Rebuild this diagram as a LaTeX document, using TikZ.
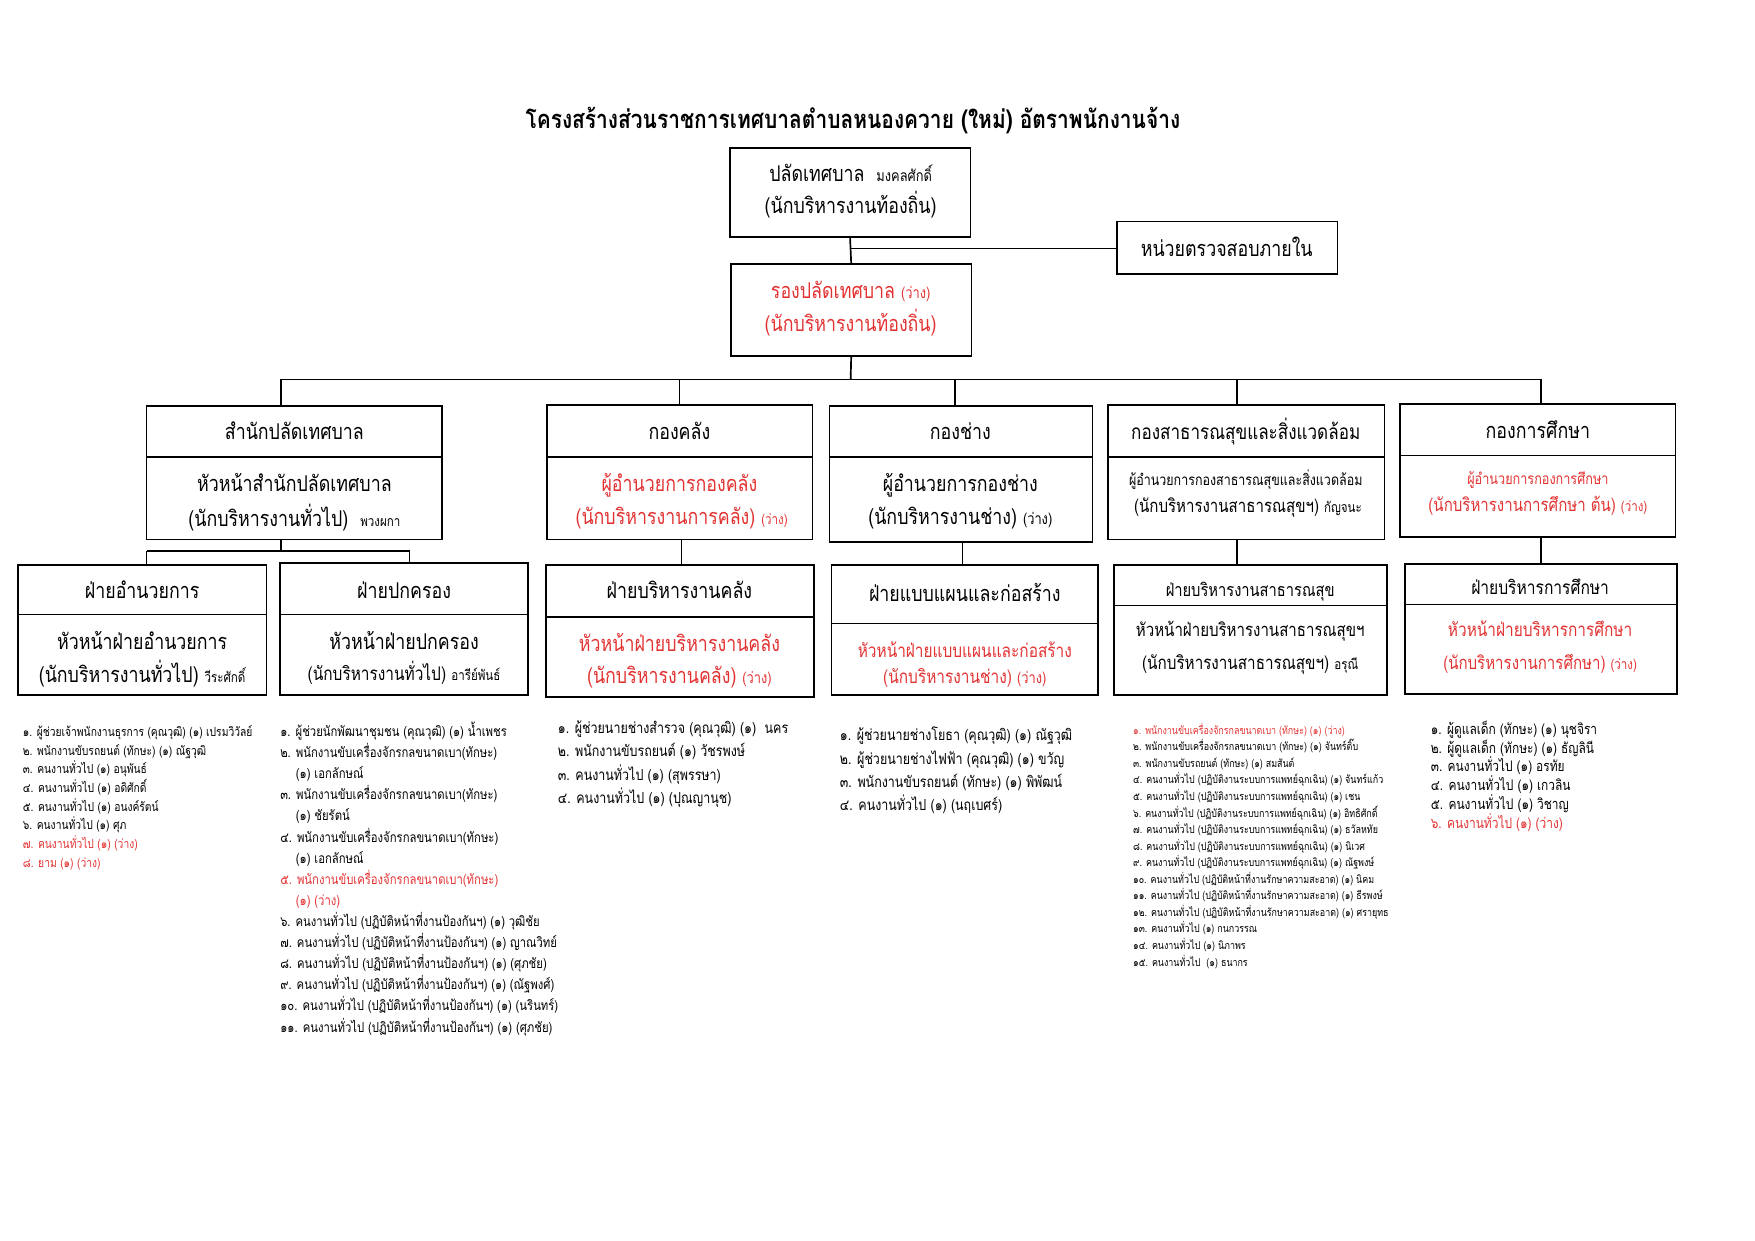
\documentclass[tikz,border=0pt]{standalone}
\usepackage{fontspec}
\setmainfont[Script=Thai,FakeStretch=0.82]{Loma}
\definecolor{myred}{RGB}{226,50,50}
\newcommand\szT{\fontsize{11.4}{13}\selectfont\bfseries}
\newcommand\szH{\fontsize{9.7}{12}\selectfont}
\newcommand\szL{\fontsize{9.7}{12}\selectfont}
\newcommand\szM{\fontsize{8.4}{10}\selectfont}
\newcommand\szS{\fontsize{7}{9}\selectfont}
\newcommand\szXS{\fontsize{6.3}{8}\selectfont}
\begin{document}
\begin{tikzpicture}[x=0.5pt,y=-0.5pt,
  bx/.style={draw, line width=0.75pt, inner sep=0, rectangle},
  tx/.style={inner sep=0, text height=0.75em, text depth=0.25em, anchor=center, yshift=-1pt},
  li/.style={inner sep=0, text height=0.75em, text depth=0.25em, anchor=west},
  ln/.style={line width=0.75pt},
  rd/.style={text=myred}]
\useasboundingbox (0,0) rectangle (1568,1108.5);
% title
\node[tx,font=\szT] (title) at (762,108) {โครงสร้างส่วนราชการเทศบาลตำบลหนองควาย (ใหม่) อัตราพนักงานจ้าง};
% boxes
\node[bx,minimum width=107.5pt,minimum height=40pt] (A) at (759.5,172) {};
\node[bx,minimum width=98.5pt,minimum height=23.5pt] (B) at (1096.5,221.5) {};
\node[bx,minimum width=107.5pt,minimum height=41pt] (C) at (760.5,277) {};
\node[bx,minimum width=132pt,minimum height=59.5pt] (D1) at (263,422.5) {};
\node[bx,minimum width=118.5pt,minimum height=60pt] (D2) at (607.5,422) {};
\node[bx,minimum width=117.5pt,minimum height=60.5pt] (D3) at (858.5,423.5) {};
\node[bx,minimum width=123.5pt,minimum height=60pt] (D4) at (1113.5,422) {};
\node[bx,minimum width=123pt,minimum height=59.5pt] (D5) at (1374,420.5) {};
\node[bx,minimum width=111pt,minimum height=58pt] (E1) at (127,563) {};
\node[bx,minimum width=111pt,minimum height=59pt] (E2) at (361,562) {};
\node[bx,minimum width=119.5pt,minimum height=59pt] (E3) at (607.5,564) {};
\node[bx,minimum width=119pt,minimum height=58pt] (E4) at (862,563) {};
\node[bx,minimum width=122pt,minimum height=58pt] (E5) at (1117,563) {};
\node[bx,minimum width=121.5pt,minimum height=58pt] (E6) at (1376.5,562) {};
% dividers
\draw[ln] (D1.west |- 0,408) -- (D1.east |- 0,408);
\draw[ln] (D2.west |- 0,408) -- (D2.east |- 0,408);
\draw[ln] (D3.west |- 0,408) -- (D3.east |- 0,408);
\draw[ln] (D4.west |- 0,408) -- (D4.east |- 0,408);
\draw[ln] (D5.west |- 0,407) -- (D5.east |- 0,407);
\draw[ln] (E1.west |- 0,549) -- (E1.east |- 0,549);
\draw[ln] (E2.west |- 0,549) -- (E2.east |- 0,549);
\draw[ln] (E3.west |- 0,551) -- (E3.east |- 0,551);
\draw[ln] (E4.west |- 0,557) -- (E4.east |- 0,557);
\draw[ln] (E5.west |- 0,541) -- (E5.east |- 0,541);
\draw[ln] (E6.west |- 0,540) -- (E6.east |- 0,540);
% connectors
\coordinate (jAB) at (760,222);
\draw[ln] (A.south) -- (C.north);
\draw[ln] (jAB) -- (B.west |- jAB);
\coordinate (bus) at (760,339);
\coordinate (b1) at (251,339);
\coordinate (b2) at (607,339);
\coordinate (b3) at (853,339);
\coordinate (b4) at (1105,339);
\coordinate (b5) at (1377,339);
\draw[ln] (C.south) -- (bus);
\draw[ln] (b1) -- (b5);
\draw[ln] (b1) -- (b1 |- D1.north);
\draw[ln] (b2) -- (b2 |- D2.north);
\draw[ln] (b3) -- (b3 |- D3.north);
\draw[ln] (b4) -- (b4 |- D4.north);
\draw[ln] (b5) -- (b5 |- D5.north);
\coordinate (c0) at (251,492);
\coordinate (c1) at (131,492);
\coordinate (c2) at (366,492);
\draw[ln] (b1 |- D1.south) -- (c0);
\draw[ln] (c1) -- (c2);
\draw[ln] (c1) -- (c1 |- E1.north);
\draw[ln] (c2) -- (c2 |- E2.north);
\coordinate (d2) at (609,480);
\coordinate (d3) at (860,480);
\coordinate (d4) at (1105,480);
\coordinate (d5) at (1377,480);
\draw[ln] (d2 |- D2.south) -- (d2 |- E3.north);
\draw[ln] (d3 |- D3.south) -- (d3 |- E4.north);
\draw[ln] (d4 |- D4.south) -- (d4 |- E5.north);
\draw[ln] (d5 |- D5.south) -- (d5 |- E6.north);
% box texts
\node[tx,font=\szH] (tA1) at (760,155) {ปลัดเทศบาล\ \ {\szS มงคลศักดิ์}};
\node[tx,font=\szH] (tA2) at (760,184) {(นักบริหารงานท้องถิ่น)};
\node[tx,font=\szH] (tB) at (1096,222) {หน่วยตรวจสอบภายใน};
\node[tx,font=\szH,rd] (tC1) at (760,260) {รองปลัดเทศบาล {\szS (ว่าง)}};
\node[tx,font=\szH,rd] (tC2) at (760,289) {(นักบริหารงานท้องถิ่น)};
\node[tx,font=\szH] (tD1a) at (263,386) {สำนักปลัดเทศบาล};
\node[tx,font=\szH] (tD1b) at (263,432) {หัวหน้าสำนักปลัดเทศบาล};
\node[tx,font=\szH] (tD1c) at (263,463) {(นักบริหารงานทั่วไป)\ \ {\szXS พวงผกา}};
\node[tx,font=\szH] (tD2a) at (607,386) {กองคลัง};
\node[tx,font=\szH,rd] (tD2b) at (607,432) {ผู้อำนวยการกองคลัง};
\node[tx,font=\szH,rd] (tD2c) at (609,462) {(นักบริหารงานการคลัง) {\szXS (ว่าง)}};
\node[tx,font=\szH] (tD3a) at (858,386) {กองช่าง};
\node[tx,font=\szH] (tD3b) at (858,432) {ผู้อำนวยการกองช่าง};
\node[tx,font=\szH] (tD3c) at (858,462) {(นักบริหารงานช่าง) {\szS (ว่าง)}};
\node[tx,font=\fontsize{9.3}{11}\selectfont] (tD4a) at (1113,386) {กองสาธารณสุขและสิ่งแวดล้อม};
\node[tx,font=\fontsize{6.8}{8}\selectfont] (tD4b) at (1113,427) {ผู้อำนวยการกองสาธารณสุขและสิ่งแวดล้อม};
\node[tx,font=\fontsize{8.2}{10}\selectfont] (tD4c) at (1115,451) {(นักบริหารงานสาธารณสุขฯ) {\szXS กัญจนะ}};
\node[tx,font=\szH] (tD5a) at (1374,385) {กองการศึกษา};
\node[tx,font=\fontsize{6.9}{8}\selectfont,rd] (tD5b) at (1374,426) {ผู้อำนวยการกองการศึกษา};
\node[tx,font=\fontsize{8.2}{10}\selectfont,rd] (tD5c) at (1374,450) {(นักบริหารงานการศึกษา ต้น) {\szXS (ว่าง)}};
\node[tx,font=\szH] (tE1a) at (127,528) {ฝ่ายอำนวยการ};
\node[tx,font=\szL] (tE1b) at (127,573) {หัวหน้าฝ่ายอำนวยการ};
\node[tx,font=\szL] (tE1c) at (127,603) {(นักบริหารงานทั่วไป) {\szXS วีระศักดิ์}};
\node[tx,font=\szH] (tE2a) at (361,528) {ฝ่ายปกครอง};
\node[tx,font=\szL] (tE2b) at (361,573) {หัวหน้าฝ่ายปกครอง};
\node[tx,font=\szM] (tE2c) at (361,601) {(นักบริหารงานทั่วไป) {\szXS อารีย์พันธ์}};
\node[tx,font=\szH] (tE3a) at (607,528) {ฝ่ายบริหารงานคลัง};
\node[tx,font=\szL,rd] (tE3b) at (607,575) {หัวหน้าฝ่ายบริหารงานคลัง};
\node[tx,font=\szL,rd] (tE3c) at (607,604) {(นักบริหารงานคลัง) {\szS (ว่าง)}};
\node[tx,font=\szH] (tE4a) at (862,530) {ฝ่ายแบบแผนและก่อสร้าง};
\node[tx,font=\szM,rd] (tE4b) at (862,580) {หัวหน้าฝ่ายแบบแผนและก่อสร้าง};
\node[tx,font=\szM,rd] (tE4c) at (862,604) {(นักบริหารงานช่าง) {\szS (ว่าง)}};
\node[tx,font=\fontsize{8}{10}\selectfont] (tE5a) at (1117,526) {ฝ่ายบริหารงานสาธารณสุข};
\node[tx,font=\fontsize{8.2}{10}\selectfont] (tE5b) at (1117,562) {หัวหน้าฝ่ายบริหารงานสาธารณสุขฯ};
\node[tx,font=\fontsize{8.3}{10}\selectfont] (tE5c) at (1117,591) {(นักบริหารงานสาธารณสุขฯ) {\szXS อรุณี}};
\node[tx,font=\fontsize{8.5}{10}\selectfont] (tE6a) at (1376,524) {ฝ่ายบริหารการศึกษา};
\node[tx,font=\szM,rd] (tE6b) at (1376,562) {หัวหน้าฝ่ายบริหารการศึกษา};
\node[tx,font=\fontsize{8.2}{10}\selectfont,rd] (tE6c) at (1376,591) {(นักบริหารงานการศึกษา) {\szXS (ว่าง)}};
% lists
\foreach \t [count=\i] in {
 ๑. ผู้ช่วยเจ้าพนักงานธุรการ (คุณวุฒิ) (๑) เปรมวิวัลย์,
 ๒. พนักงานขับรถยนต์ (ทักษะ) (๑) ณัฐวุฒิ,
 ๓. คนงานทั่วไป (๑) อนุพันธ์,
 ๔. คนงานทั่วไป (๑) อดิศักดิ์,
 ๕. คนงานทั่วไป (๑) อนงค์รัตน์,
 ๖. คนงานทั่วไป (๑) ศุภ,
 {\color{myred}๗. คนงานทั่วไป (๑) (ว่าง)},
 {\color{myred}๘. ยาม (๑) (ว่าง)}}
 \node[li,font=\fontsize{5.6}{7}\selectfont] (La\i) at (20,{653+(\i-1)*16.7}) {\t};
\foreach \t [count=\i] in {
 ๑. ผู้ช่วยนักพัฒนาชุมชน (คุณวุฒิ) (๑) น้ำเพชร,
 ๒. พนักงานขับเครื่องจักรกลขนาดเบา(ทักษะ),
 \hspace*{7pt}(๑) เอกลักษณ์,
 ๓. พนักงานขับเครื่องจักรกลขนาดเบา(ทักษะ),
 \hspace*{7pt}(๑) ชัยรัตน์,
 ๔. พนักงานขับเครื่องจักรกลขนาดเบา(ทักษะ),
 \hspace*{7pt}(๑) เอกลักษณ์,
 {\color{myred}๕. พนักงานขับเครื่องจักรกลขนาดเบา(ทักษะ)},
 {\color{myred}\hspace*{7pt}(๑) (ว่าง)},
 ๖. คนงานทั่วไป (ปฏิบัติหน้าที่งานป้องกันฯ) (๑) วุฒิชัย,
 ๗. คนงานทั่วไป (ปฏิบัติหน้าที่งานป้องกันฯ) (๑) ญาณวิทย์,
 ๘. คนงานทั่วไป (ปฏิบัติหน้าที่งานป้องกันฯ) (๑) (ศุภชัย),
 ๙. คนงานทั่วไป (ปฏิบัติหน้าที่งานป้องกันฯ) (๑) (ณัฐพงศ์),
 ๑๐. คนงานทั่วไป (ปฏิบัติหน้าที่งานป้องกันฯ) (๑) (นรินทร์),
 ๑๑. คนงานทั่วไป (ปฏิบัติหน้าที่งานป้องกันฯ) (๑) (ศุภชัย)}
 \node[li,font=\fontsize{6.15}{8}\selectfont] (Lb\i) at (250,{653+(\i-1)*18.86}) {\t};
\foreach \t [count=\i] in {
 ๑. ผู้ช่วยนายช่างสำรวจ (คุณวุฒิ) (๑)\ \ นคร,
 ๒. พนักงานขับรถยนต์ (๑) วัชรพงษ์,
 ๓. คนงานทั่วไป (๑) (สุพรรษา),
 ๔. คนงานทั่วไป (๑) (ปุณญานุช)}
 \node[li,font=\fontsize{6.8}{8}\selectfont] (Lc\i) at (498,{650+(\i-1)*21}) {\t};
\foreach \t [count=\i] in {
 ๑. ผู้ช่วยนายช่างโยธา (คุณวุฒิ) (๑) ณัฐวุฒิ,
 ๒. ผู้ช่วยนายช่างไฟฟ้า (คุณวุฒิ) (๑) ขวัญ,
 ๓. พนักงานขับรถยนต์ (ทักษะ) (๑) พิพัฒน์,
 ๔. คนงานทั่วไป (๑) (นฤเบศร์)}
 \node[li,font=\fontsize{6.8}{8}\selectfont] (Ld\i) at (750,{657+(\i-1)*20.67}) {\t};
\foreach \t [count=\i] in {
 {\color{myred}๑. พนักงานขับเครื่องจักรกลขนาดเบา (ทักษะ) (๑) (ว่าง)},
 ๒. พนักงานขับเครื่องจักรกลขนาดเบา (ทักษะ) (๑) จันทร์ติ๊บ,
 ๓. พนักงานขับรถยนต์ (ทักษะ) (๑) สมสันต์,
 ๔. คนงานทั่วไป (ปฏิบัติงานระบบการแพทย์ฉุกเฉิน) (๑) จันทร์แก้ว,
 ๕. คนงานทั่วไป (ปฏิบัติงานระบบการแพทย์ฉุกเฉิน) (๑) เชน,
 ๖. คนงานทั่วไป (ปฏิบัติงานระบบการแพทย์ฉุกเฉิน) (๑) อิทธิศักดิ์,
 ๗. คนงานทั่วไป (ปฏิบัติงานระบบการแพทย์ฉุกเฉิน) (๑) ธวัลหทัย,
 ๘. คนงานทั่วไป (ปฏิบัติงานระบบการแพทย์ฉุกเฉิน) (๑) นิเวศ,
 ๙. คนงานทั่วไป (ปฏิบัติงานระบบการแพทย์ฉุกเฉิน) (๑) ณัฐพงษ์,
 ๑๐. คนงานทั่วไป (ปฏิบัติหน้าที่งานรักษาความสะอาด) (๑) นิคม,
 ๑๑. คนงานทั่วไป (ปฏิบัติหน้าที่งานรักษาความสะอาด) (๑) ธีรพงษ์,
 ๑๒. คนงานทั่วไป (ปฏิบัติหน้าที่งานรักษาความสะอาด) (๑) ศรายุทธ,
 ๑๓. คนงานทั่วไป (๑) กนกวรรณ,
 ๑๔. คนงานทั่วไป (๑) นิภาพร,
 ๑๕. คนงานทั่วไป\ \ (๑) ธนากร}
 \node[li,font=\fontsize{4.85}{6}\selectfont] (Le\i) at (1012,{651+(\i-1)*14.79}) {\t};
\foreach \t [count=\i] in {
 ๑. ผู้ดูแลเด็ก (ทักษะ) (๑) นุชจิรา,
 ๒. ผู้ดูแลเด็ก (ทักษะ) (๑) ธัญลินี,
 ๓. คนงานทั่วไป (๑) อรทัย,
 ๔. คนงานทั่วไป (๑) เกวลิน,
 ๕. คนงานทั่วไป (๑) วิชาญ,
 {\color{myred}๖. คนงานทั่วไป (๑) (ว่าง)}}
 \node[li,font=\fontsize{6.5}{8}\selectfont] (Lf\i) at (1278,{651+(\i-1)*16.8}) {\t};
\end{tikzpicture}
\end{document}
